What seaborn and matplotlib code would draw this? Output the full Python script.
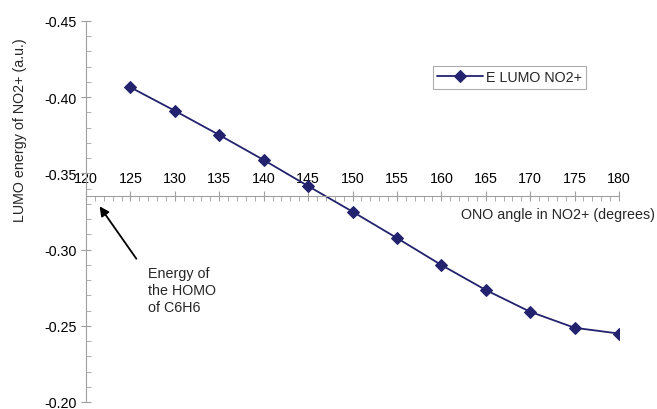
import matplotlib
matplotlib.use("Agg")
import matplotlib.pyplot as plt
import seaborn as sns
import pandas as pd
from matplotlib.ticker import MultipleLocator, FormatStrFormatter

angles = [125, 130, 135, 140, 145, 150, 155, 160, 165, 170, 175, 180]
lumo = [-0.4065, -0.3911, -0.3752, -0.3588, -0.3417, -0.3249, -0.3076,
        -0.2899, -0.2735, -0.2592, -0.2487, -0.2449]
series_name = "E LUMO NO2+"
homo_c6h6 = -0.335

sns.set_style("white")
plt.rcParams['font.family'] = ['Liberation Sans', 'DejaVu Sans']

df = pd.DataFrame({"angle": angles, "energy": lumo})

fig = plt.figure(figsize=(6.57, 4.10), dpi=100)
ax = fig.add_axes([86/657, 1-403/410, (619-86)/657, (403-22)/410])

fs = 10.3
color = "#22226e"
sns.lineplot(data=df, x="angle", y="energy", ax=ax, color=color, marker="D",
             markersize=6, markeredgecolor=color, linewidth=1.3,
             label=series_name, sort=False)

ax.set_xlim(120, 180)
ax.set_ylim(-0.20, -0.45)

for s in ["top", "right"]:
    ax.spines[s].set_visible(False)
gray = "#a0a0a0"
ax.spines["left"].set_color(gray)
ax.spines["bottom"].set_color(gray)
ax.spines["bottom"].set_position(("data", homo_c6h6))

ax.xaxis.set_major_locator(MultipleLocator(5))
ax.xaxis.set_minor_locator(MultipleLocator(1))
ax.yaxis.set_major_locator(MultipleLocator(0.05))
ax.yaxis.set_minor_locator(MultipleLocator(0.01))
ax.yaxis.set_major_formatter(FormatStrFormatter("%.2f"))

ax.tick_params(axis="x", which="major", direction="inout", length=7, color=gray,
               labelsize=fs, pad=-22, labelcolor="black")
ax.tick_params(axis="x", which="minor", direction="out", length=3.5, color=gray)
ax.tick_params(axis="y", which="major", direction="inout", length=7, color=gray,
               labelsize=fs, labelcolor="black", pad=3)
ax.tick_params(axis="y", which="minor", direction="in", length=3.5, color=gray)
ax.xaxis.set_ticks_position("bottom")
ax.yaxis.set_ticks_position("left")

ax.set_xlabel("ONO angle in NO2+ (degrees)", fontsize=fs, ha="right", va="center")
ax.xaxis.set_label_coords((655-86)/533, (403-215)/381)
ax.set_ylabel("LUMO energy of NO2+ (a.u.)", fontsize=fs, va="center", ha="center")
ax.yaxis.set_label_coords((20-86)/533, (403-130)/381)

leg = ax.legend(loc="upper left", bbox_to_anchor=((433-86)/533, (403-67)/381),
                fontsize=fs, frameon=True, fancybox=False, edgecolor="#999999",
                borderpad=0.3, borderaxespad=0, handlelength=3.2, handletextpad=0.2)
leg.get_frame().set_linewidth(0.8)

ax.annotate("", xy=(121.35, -0.3299), xytext=(125.85, -0.2925),
            arrowprops=dict(arrowstyle="-|>", color="black", lw=1.3, mutation_scale=14))
ax.text(126.98, -0.2895, "Energy of\nthe HOMO\nof C6H6", fontsize=fs,
        ha="left", va="top", linespacing=1.3)

fig.savefig("out.png", dpi=100)
